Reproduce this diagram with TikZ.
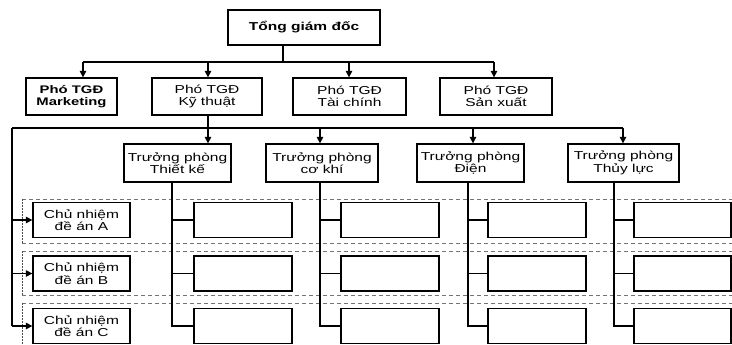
\documentclass[tikz,border=0pt]{standalone}
\usepackage{fontspec}
\setmainfont{Liberation Sans}[FakeStretch=1.35]
\usetikzlibrary{arrows.meta}
\begin{document}
\begin{tikzpicture}[x=1pt,y=-1pt,
    box/.style={draw,line width=1.3pt,inner sep=0pt,align=center,
        font=\fontsize{11.5}{12.5}\selectfont},
    arr/.style={line width=1.3pt,-{Triangle[length=6.5pt,width=6.5pt]}},
    lnk/.style={line width=1.3pt}]
    \tikzstyle{cell}=[draw,line width=1.3pt,minimum width=98pt,minimum height=35pt]
    \tikzstyle{row}=[black!55,line width=0.8pt,dash pattern=on 4pt off 3pt]
    \tikzstyle{rowside}=[black!70,line width=0.8pt,dash pattern=on 1.5pt off 1.5pt]
    \useasboundingbox (0,0) rectangle (732,345);

    % project rows
    \draw[row] (22,199) -- (732,199) (22,243) -- (732,243);
    \draw[row] (22,251) -- (732,251) (22,295) -- (732,295);
    \draw[row] (22,303) -- (732,303);
    \draw[rowside] (22,199) -- (22,243) (22,251) -- (22,295) (22,303) -- (22,345);

    % top levels
    \node[box,minimum width=152pt,minimum height=35pt,font=\fontsize{11.5}{12.5}\selectfont\bfseries]
        (tgd) at (304,27.5) {Tổng giám đốc};
    \node[box,minimum width=91pt,minimum height=37pt,font=\fontsize{11}{12}\selectfont\bfseries]
        (mkt) at (71.5,96.5) {Phó TGĐ\\Marketing};
    \node[box,minimum width=110pt,minimum height=37pt] (kt) at (207,96.5) {Phó TGĐ\\Kỹ thuật};
    \node[box,minimum width=113pt,minimum height=37pt] (tc) at (349.5,96.5) {Phó TGĐ\\Tài chính};
    \node[box,minimum width=112pt,minimum height=37pt] (sx) at (496,96.5) {Phó TGĐ\\Sản xuất};

    \coordinate (bt) at (283,62);
    \coordinate (b1) at (83,62);
    \coordinate (b2) at (208,62);
    \coordinate (b3) at (349,62);
    \coordinate (b4) at (494,62);
    \draw[lnk] (tgd.south -| bt) -- (bt);
    \draw[lnk] (b1) -- (b4);
    \draw[arr] (b1) -- (b1 |- mkt.north);
    \draw[arr] (b2) -- (b2 |- kt.north);
    \draw[arr] (b3) -- (b3 |- tc.north);
    \draw[arr] (b4) -- (b4 |- sx.north);

    % departments
    \node[box,minimum width=107pt,minimum height=38pt] (tk) at (177.5,163) {Trưởng phòng\\Thiết kế};
    \node[box,minimum width=112pt,minimum height=38pt] (ck) at (322,163) {Trưởng phòng\\cơ khí};
    \node[box,minimum width=107pt,minimum height=38pt] (dn) at (470.5,163) {Trưởng phòng\\Điện};
    \node[box,minimum width=111pt,minimum height=38pt] (tl) at (623.5,163) {Trưởng phòng\\Thủy lực};

    \coordinate (kl) at (12,128);
    \coordinate (k1) at (208,128);
    \coordinate (k2) at (320,128);
    \coordinate (k3) at (473,128);
    \coordinate (k4) at (623,128);
    \draw[lnk] (kt.south -| k1) -- (k1);
    \draw[lnk] (kl) -- (k4);
    \draw[arr] (k1) -- (k1 |- tk.north);
    \draw[arr] (k2) -- (k2 |- ck.north);
    \draw[arr] (k3) -- (k3 |- dn.north);
    \draw[arr] (k4) -- (k4 |- tl.north);

    % project leaders
    \node[box,minimum width=97pt,minimum height=35pt] (cnA) at (81.5,220) {Chủ nhiệm\\đề án A};
    \node[box,minimum width=97pt,minimum height=35pt] (cnB) at (81.5,273.5) {Chủ nhiệm\\đề án B};
    \node[box,minimum width=97pt,minimum height=35pt] (cnC) at (81.5,326) {Chủ nhiệm\\đề án C};
    \draw[lnk] (kl) -- (kl |- cnC.west);
    \draw[arr] (kl |- cnA.west) -- (cnA.west);
    \draw[arr] (kl |- cnB.west) -- (cnB.west);
    \draw[arr] (kl |- cnC.west) -- (cnC.west);

    % members
    \node[cell] (a1) at (243,220) {};
    \node[cell] (b1c) at (243,273.5) {};
    \node[cell] (c1) at (243,326) {};
    \node[cell] (a2) at (390,220) {};
    \node[cell] (b2c) at (390,273.5) {};
    \node[cell] (c2) at (390,326) {};
    \node[cell] (a3) at (537,220) {};
    \node[cell] (b3c) at (537,273.5) {};
    \node[cell] (c3) at (537,326) {};
    \node[cell,minimum width=97pt] (a4) at (682.5,220) {};
    \node[cell,minimum width=97pt] (b4c) at (682.5,273.5) {};
    \node[cell,minimum width=97pt] (c4) at (682.5,326) {};

    \coordinate (d1) at (172,0);
    \coordinate (d2) at (320,0);
    \coordinate (d3) at (468,0);
    \coordinate (d4) at (614,0);
    \draw[lnk] (tk.south -| d1) |- (c1.west);
    \draw[lnk] (d1 |- a1.west) -- (a1.west) (d1 |- b1c.west) -- (b1c.west);
    \draw[lnk] (ck.south -| d2) |- (c2.west);
    \draw[lnk] (d2 |- a2.west) -- (a2.west) (d2 |- b2c.west) -- (b2c.west);
    \draw[lnk] (dn.south -| d3) |- (c3.west);
    \draw[lnk] (d3 |- a3.west) -- (a3.west) (d3 |- b3c.west) -- (b3c.west);
    \draw[lnk] (tl.south -| d4) |- (c4.west);
    \draw[lnk] (d4 |- a4.west) -- (a4.west) (d4 |- b4c.west) -- (b4c.west);

\end{tikzpicture}
\end{document}
